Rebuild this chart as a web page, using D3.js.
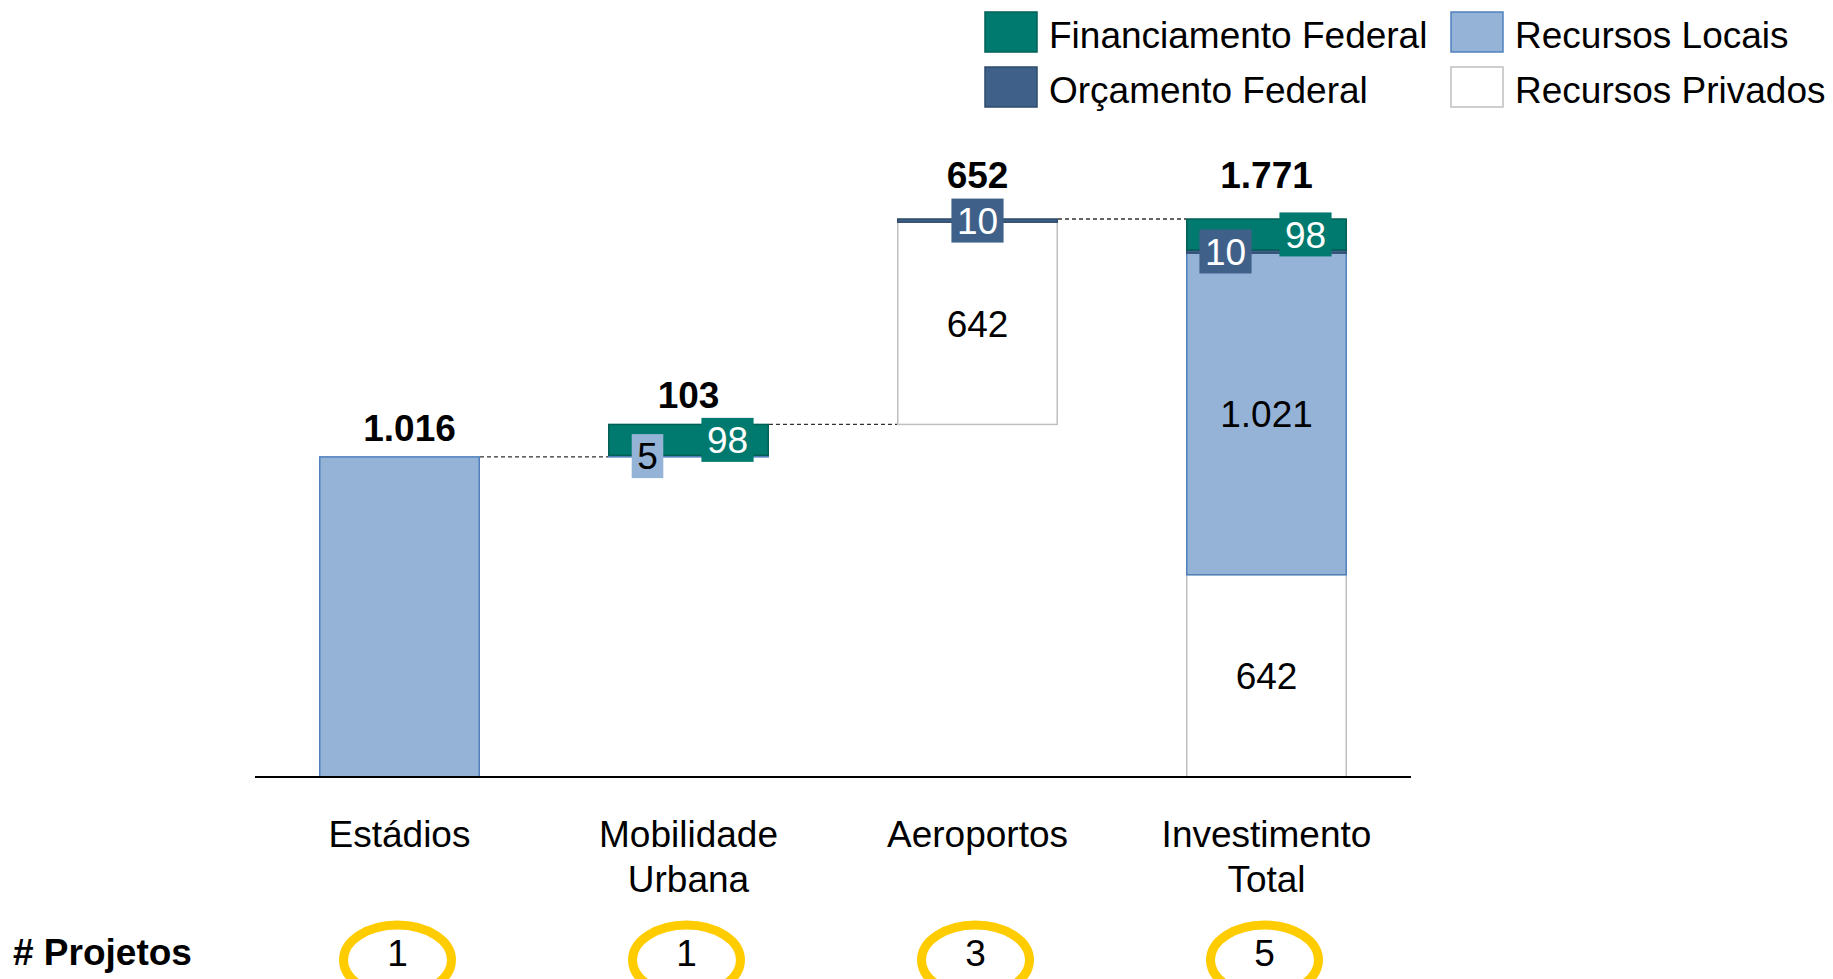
<!DOCTYPE html>
<html lang="pt">

<head>
    <meta charset="UTF-8">
    <title>Investimento por tema</title>
    <script src="https://d3js.org/d3.v7.min.js"></script>
    <style>
        body {
            margin: 0;
            background: #fff;
        }

        svg text {
            font-family: "Liberation Sans", Arial, sans-serif;
        }
    </style>
</head>

<body>
    <svg width="1833" height="979"></svg>

    <script>
        // data
        const categories = ["Estádios", "Mobilidade Urbana", "Aeroportos", "Investimento Total"];
        const privados = [0, 0, 642, 642];
        const locais = [1016, 5, 0, 1021];
        const orcamento = [0, 0, 10, 10];
        const financiamento = [0, 98, 0, 98];
        const projetos = [1, 1, 3, 5];
        // waterfall: the last bar is the total, the others build on the previous one
        const isTotal = [false, false, false, true];

        const series = [
            { key: "Recursos Privados", values: privados, fill: "#ffffff", stroke: "#bfbfbf", text: "#000" },
            { key: "Recursos Locais", values: locais, fill: "#95b3d7", stroke: "#4f81bd", text: "#000" },
            { key: "Orçamento Federal", values: orcamento, fill: "#3f6189", stroke: "#2e4a6b", text: "#fff" },
            { key: "Financiamento Federal", values: financiamento, fill: "#007a6e", stroke: "#005f55", text: "#fff" }
        ];
        const legendOrder = ["Financiamento Federal", "Orçamento Federal", "Recursos Locais", "Recursos Privados"];

        const ptBR = d3.formatLocale({ decimal: ",", thousands: ".", grouping: [3], currency: ["R$", ""] });
        const fmt = ptBR.format(",d");

        const svg = d3.select("svg");

        // build stacked segments
        let running = 0;
        const bars = categories.map(function (c, i) {
            const base = isTotal[i] ? 0 : running;
            let y0 = base;
            const segs = [];
            series.forEach(function (s) {
                const v = s.values[i];
                if (v > 0) {
                    segs.push({ cat: c, s: s, v: v, y0: y0, y1: y0 + v });
                    y0 += v;
                }
            });
            const total = y0 - base;
            if (!isTotal[i]) running = y0;
            return { cat: c, i: i, base: base, top: y0, total: total, segs: segs };
        });

        const x = d3.scaleBand()
            .domain(categories)
            .range([255, 1411])
            .paddingInner(0.443)
            .paddingOuter(0.2215);

        const y = d3.scaleLinear()
            .domain([0, d3.max(bars, d => d.top)])
            .range([777, 219]);

        const bw = x.bandwidth();

        // dashed connectors
        const conn = svg.append("g");
        for (let i = 0; i < bars.length - 1; i++) {
            conn.append("line")
                .attr("x1", x(categories[i]) + bw)
                .attr("x2", x(categories[i + 1]))
                .attr("y1", y(bars[i].top))
                .attr("y2", y(bars[i].top))
                .attr("stroke", "#303030")
                .attr("stroke-width", 1.3)
                .attr("stroke-dasharray", "4,3");
        }

        // segments
        const allSegs = bars.flatMap(b => b.segs);
        svg.append("g").selectAll("rect")
            .data(allSegs)
            .join("rect")
            .attr("x", d => x(d.cat) + 0.75)
            .attr("width", bw - 1.5)
            .attr("y", d => y(d.y1))
            .attr("height", d => Math.max(y(d.y0) - y(d.y1), 1))
            .attr("fill", d => d.s.fill)
            .attr("stroke", d => d.s.stroke)
            .attr("stroke-width", 1.5);

        // axis line
        svg.append("line")
            .attr("x1", x.range()[0])
            .attr("x2", x.range()[1])
            .attr("y1", y(0))
            .attr("y2", y(0))
            .attr("stroke", "#000")
            .attr("stroke-width", 2);

        // segment labels (a bar with one segment only gets its total)
        const labG = svg.append("g");
        bars.forEach(function (b) {
            const small = b.segs.filter(d => d.v < 150);
            if (b.segs.length > 1) b.segs.forEach(function (d) {
                let dx = 0;
                if (small.length > 1 && d.v < 150) {
                    dx = d.s.key === "Financiamento Federal" ? 39 : -41;
                }
                const cx = x(d.cat) + bw / 2 + dx;
                const cy = (y(d.y0) + y(d.y1)) / 2;
                const g = labG.append("g");
                const t = g.append("text")
                    .attr("x", cx)
                    .attr("y", cy)
                    .attr("dy", "0.36em")
                    .attr("text-anchor", "middle")
                    .attr("font-size", 37)
                    .attr("fill", d.s.text)
                    .text(fmt(d.v));
                if (d.v < 150) {
                    const w = t.node().getComputedTextLength() + 11;
                    g.insert("rect", "text")
                        .attr("x", cx - w / 2)
                        .attr("y", cy - 22)
                        .attr("width", w)
                        .attr("height", 44)
                        .attr("fill", d.s.fill);
                }
            });

            // total on top
            const lift = orcamento[b.i] > 0 ? 31 : 16;
            svg.append("text")
                .attr("x", x(b.cat) + bw / 2 + (b.segs.length === 1 ? 10 : 0))
                .attr("y", y(b.top) - lift)
                .attr("text-anchor", "middle")
                .attr("font-size", 37)
                .attr("font-weight", "bold")
                .text(fmt(b.total));
        });

        // category labels
        svg.append("g").selectAll("text")
            .data(categories)
            .join("text")
            .attr("x", d => x(d) + bw / 2)
            .attr("y", 847)
            .attr("text-anchor", "middle")
            .attr("font-size", 37)
            .each(function (d) {
                const words = d.split(" ");
                d3.select(this).selectAll("tspan")
                    .data(words)
                    .join("tspan")
                    .attr("x", x(d) + bw / 2)
                    .attr("dy", (w, k) => k === 0 ? 0 : 45)
                    .text(w => w);
            });

        // number of projects
        svg.append("text")
            .attr("x", 13)
            .attr("y", 965)
            .attr("font-size", 37)
            .attr("font-weight", "bold")
            .text("# Projetos");

        const pg = svg.append("g").selectAll("g")
            .data(categories)
            .join("g")
            .attr("transform", d => "translate(" + (x(d) + bw / 2 - 2) + ",0)");
        pg.append("ellipse")
            .attr("cx", 0)
            .attr("cy", 960)
            .attr("rx", 54)
            .attr("ry", 35)
            .attr("fill", "#fff")
            .attr("stroke", "#ffcc00")
            .attr("stroke-width", 9);
        pg.append("text")
            .attr("x", 0)
            .attr("y", 966)
            .attr("text-anchor", "middle")
            .attr("font-size", 37)
            .text((d, i) => projetos[i]);

        // legend
        const leg = svg.append("g");
        legendOrder.forEach(function (k, i) {
            const s = series.find(d => d.key === k);
            const col = Math.floor(i / 2), row = i % 2;
            const lx = 985 + col * 466, ly = 12 + row * 55;
            leg.append("rect")
                .attr("x", lx)
                .attr("y", ly)
                .attr("width", 52)
                .attr("height", 40)
                .attr("fill", s.fill)
                .attr("stroke", s.stroke)
                .attr("stroke-width", 1.5);
            leg.append("text")
                .attr("x", lx + 64)
                .attr("y", ly + 36)
                .attr("font-size", 37)
                .text(k);
        });
    </script>
</body>

</html>
